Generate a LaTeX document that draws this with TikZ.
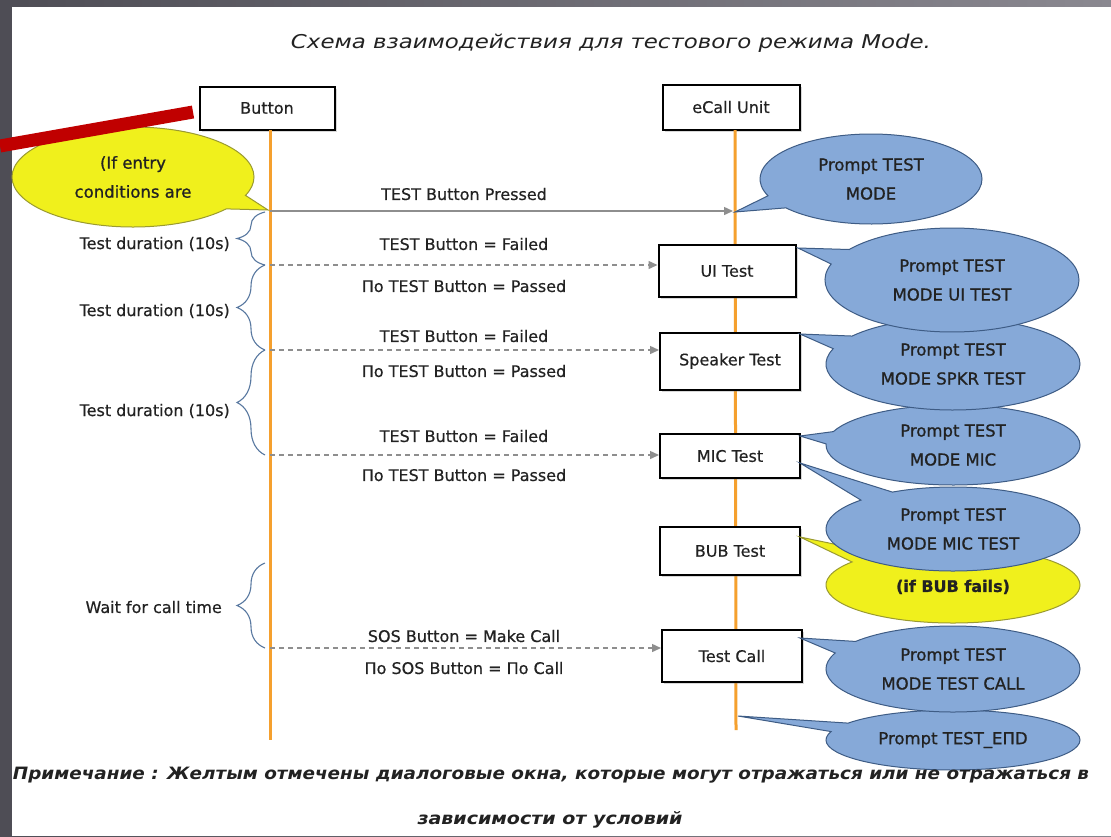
\documentclass[tikz,border=0pt]{standalone}
\usepackage{graphicx}
\usepackage{fontspec}
\setmainfont{DejaVu Sans}
\newfontfamily\medfont{DejaVu Sans}[FakeBold=0.5]
\newfontfamily\heavyfont{DejaVu Sans}[FakeBold=1.0]
\usetikzlibrary{shapes.callouts,decorations.pathreplacing,arrows.meta,shadows}

\definecolor{bgdark}{HTML}{4E4D55}
\definecolor{bglight}{HTML}{8A8890}
\definecolor{life}{HTML}{F5A02E}
\definecolor{bluefill}{HTML}{86A9D8}
\definecolor{blueline}{HTML}{3E5C85}
\definecolor{yelfill}{HTML}{F0F01C}
\definecolor{yelline}{HTML}{9A9A30}
\definecolor{arrowgray}{HTML}{8E8E8E}
\definecolor{bracecol}{HTML}{5878A0}
\definecolor{redbar}{HTML}{C00000}
\definecolor{txt}{HTML}{222222}

\begin{document}
\begin{tikzpicture}[x=1pt,y=-1pt,
  lbl/.style={font=\medfont\fontsize{16}{18}\selectfont, text=txt, inner sep=0},
  box/.style={draw=black, line width=2pt, fill=white, text=txt,
    font=\medfont\fontsize{16}{18}\selectfont, inner sep=0,
    drop shadow={shadow xshift=2pt, shadow yshift=-2pt, opacity=0.3}},
  lifeline/.style={life, line width=3pt},
  msg/.style={arrowgray, line width=1.4pt, -{Triangle[length=9pt,width=8pt]}},
  dmsg/.style={msg, dash pattern=on 5pt off 4pt},
  bcall/.style={ellipse callout, draw=blueline, line width=1pt, fill=bluefill,
    inner sep=0, align=center, text=txt, callout pointer arc=18,
    font=\heavyfont\fontsize{16.5}{29}\selectfont},
  ycall/.style={bcall, draw=yelline, fill=yelfill},
  brc/.style={bracecol, line width=1.1pt, decorate, decoration={brace, amplitude=28pt}},
  side/.style={lbl, anchor=east},
]
\useasboundingbox (0,0) rectangle (1111,836);
% background frame
\shade[left color=bgdark, right color=bglight] (0,0) rectangle (1111,836);
\fill[white] (12,7) rectangle (1111,836);

% boxes
\node[box, minimum width=135pt, minimum height=43pt] (button) at (267,108) {Button};
\node[box, minimum width=137pt, minimum height=45pt] (ecall) at (731,107) {eCall Unit};

% lifeline coordinates
\coordinate (bt) at (270,130);
\coordinate (bb) at (270,740);
\coordinate (et) at (735,130);
\coordinate (eb) at (736,730);
\draw[lifeline] (bt) -- (bb);
\draw[lifeline] (et) -- (eb);

% message coordinates
\coordinate (m0a) at (270,211);
\coordinate (m0b) at (733,211);
\coordinate (m1) at (270,265);
\coordinate (m2) at (270,350);
\coordinate (m3) at (270,455);
\coordinate (m4) at (270,648);

% test boxes
\node[box, minimum width=137pt, minimum height=52pt] (ui) at (727,271) {UI Test};
\node[box, minimum width=140pt, minimum height=57pt] (spk) at (730,361) {Speaker Test};
\node[box, minimum width=140pt, minimum height=44pt] (mic) at (730,456) {MIC Test};
\node[box, minimum width=140pt, minimum height=48pt] (bub) at (730,551) {BUB Test};
\node[box, minimum width=140pt, minimum height=52pt] (tcall) at (732,656) {Test Call};

% messages
\draw[msg] (m0a) -- (m0b);
\draw[dmsg] (m1) -- (m1 -| ui.west);
\draw[dmsg] (m2) -- (m2 -| spk.west);
\draw[dmsg] (m3) -- (m3 -| mic.west);
\draw[dmsg] (m4) -- (m4 -| tcall.west);

% message labels
\node[lbl] (l0) at (464,194) {TEST Button Pressed};
\node[lbl] (l1a) at (464,244) {TEST Button = Failed};
\node[lbl] (l1b) at (464,286) {По TEST Button = Passed};
\node[lbl] (l2a) at (464,336) {TEST Button = Failed};
\node[lbl] (l2b) at (464,371) {По TEST Button = Passed};
\node[lbl] (l3a) at (464,436) {TEST Button = Failed};
\node[lbl] (l3b) at (464,475) {По TEST Button = Passed};
\node[lbl] (l4a) at (464,636) {SOS Button = Make Call};
\node[lbl] (l4b) at (464,668) {По SOS Button = По Call};

% braces
\coordinate (r0) at (265,212);
\coordinate (r1) at (265,265);
\coordinate (r2) at (265,350);
\coordinate (r3) at (265,455);
\coordinate (r4) at (265,563);
\coordinate (r5) at (265,648);
\draw[brc] (r1) -- (r0);
\draw[brc] (r2) -- (r1);
\draw[brc] (r3) -- (r2);
\draw[brc] (r5) -- (r4);
\node[side] (d1) at (230,244) {Test duration (10s)};
\node[side] (d2) at (230,311) {Test duration (10s)};
\node[side] (d3) at (230,411) {Test duration (10s)};
\node[side] (d4) at (222,607) {Wait for call time};

% callouts (drawn bottom first so upper ones lie on top)
\coordinate (a0) at (268,210);
\coordinate (a1) at (735,212);
\coordinate (a2) at (798,248);
\coordinate (a3) at (800,334);
\coordinate (a4) at (800,436);
\coordinate (a5) at (800,463);
\coordinate (a6) at (800,537);
\coordinate (a7) at (800,638);
\coordinate (a8) at (738,716);
\node[bcall, minimum width=254pt, minimum height=60pt, callout absolute pointer={(a8)}] (pend) at (953,740) {Prompt TEST\_EПD};
\node[bcall, minimum width=254pt, minimum height=86pt, callout absolute pointer={(a7)}] (ptc) at (953,669) {Prompt TEST\\MODE TEST CALL};
\node[ycall, minimum width=254pt, minimum height=76pt, callout absolute pointer={(a6)}, font=\heavyfont\bfseries\fontsize{16}{29}\selectfont] (pbub) at (953,585) {\raisebox{-16pt}{(if BUB fails)}};
\node[bcall, minimum width=254pt, minimum height=84pt, callout absolute pointer={(a5)}] (pmict) at (953,529) {Prompt TEST\\MODE MIC TEST};
\node[bcall, minimum width=254pt, minimum height=80pt, callout absolute pointer={(a4)}] (pmic) at (953,445) {Prompt TEST\\MODE MIC};
\node[bcall, minimum width=254pt, minimum height=92pt, callout absolute pointer={(a3)}] (pspk) at (953,364) {Prompt TEST\\MODE SPKR TEST};
\node[bcall, minimum width=254pt, minimum height=104pt, callout absolute pointer={(a2)}] (pui) at (952,280) {Prompt TEST\\MODE UI TEST};
\node[bcall, minimum width=222pt, minimum height=90pt, callout absolute pointer={(a1)}] (pmode) at (871,179) {Prompt TEST\\MODE};
\node[ycall, minimum width=242pt, minimum height=100pt, callout absolute pointer={(a0)}] (pentry) at (133,177) {(If entry\\conditions are};

% title and note
\node[inner sep=0, text=txt, font=\itshape\fontsize{19}{22}\selectfont] (title) at (611,43)
  {\resizebox{640pt}{\height}{Схема взаимодействия для тестового режима Mode.}};
\node[inner sep=0, text=txt, font=\itshape\bfseries\fontsize{17}{20}\selectfont] (note1) at (551,775)
  {\resizebox{1076pt}{\height}{Примечание : Желтым отмечены диалоговые окна, которые могут отражаться или не отражаться в}};
\node[inner sep=0, text=txt, font=\itshape\bfseries\fontsize{17}{20}\selectfont] (note2) at (550,820)
  {\resizebox{265pt}{\height}{зависимости от условий}};

% red bar
\coordinate (rb0) at (0,146);
\coordinate (rb1) at (193,112);
\draw[redbar, line width=13pt] (rb0) -- (rb1);
\end{tikzpicture}
\end{document}
